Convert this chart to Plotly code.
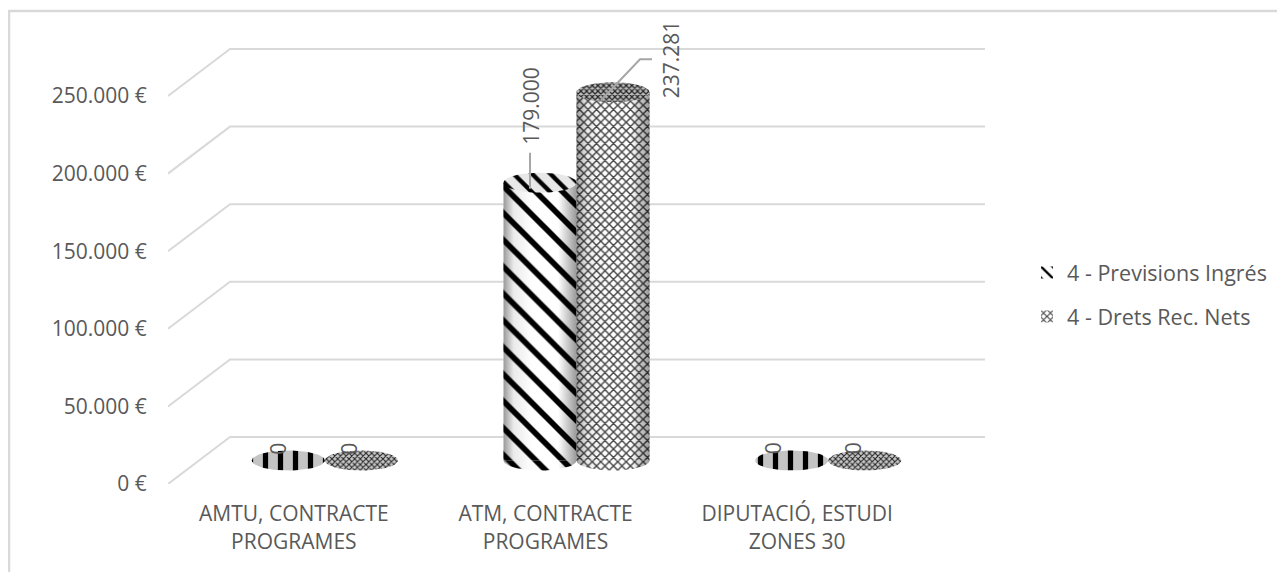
import numpy as np
import plotly.graph_objects as go

categories = ["AMTU, CONTRACTE<br>PROGRAMES", "ATM, CONTRACTE<br>PROGRAMES", "DIPUTACIÓ, ESTUDI<br>ZONES 30"]
previsions = [0, 179000, 0]
drets = [0, 237281, 0]
y_ticks = [0, 50000, 100000, 150000, 200000, 250000]
y_ticklabels = ["0 €", "50.000 €", "100.000 €", "150.000 €", "200.000 €", "250.000 €"]
value_labels_prev = ["0", "179.000", "0"]
value_labels_drets = ["0", "237.281", "0"]

TEXT = "#595959"
GRID = "#d9d9d9"
FONT = "Open Sans"
OFF = 8                                # the page's own body margin
W, H = 1285 - OFF, 572 - OFF
L, R, T, B = 168 - OFF, 985 - OFF, 12 - OFF, 484 - OFF   # plot area in px
CAT_PX = 755 / 3                      # px per category on the front plane
V_PX = 77.6 / 50000                   # px per euro
DX = 62 / CAT_PX                      # depth of the floor, x units
DY = 47 / V_PX                        # depth of the floor, y units
BAR_W = 73 / CAT_PX
RY = 10 / V_PX                        # ellipse half-height
x_range = [-0.5, -0.5 + (R - L) / CAT_PX]
y_range = [0, (B - T) / V_PX]
x_pos = np.arange(len(categories), dtype=float)
x_prev = x_pos + DX / 2 - BAR_W / 2
x_drets = x_pos + DX / 2 + BAR_W / 2
base = DY / 2

fig = go.Figure()

# 3-D style gridlines, under the marks
grid_shapes = []
for v in y_ticks:
    grid_shapes.append(dict(
        type="path", xref="x", yref="y", layer="below", line=dict(color=GRID, width=2),
        path=f"M {x_range[0]},{v} L {x_range[0] + DX},{v + DY} L {x_range[1]},{v + DY}"))

PAT_PREV = dict(shape="\\", bgcolor="white", fgcolor="black", fgopacity=1, size=19, solidity=0.3)
PAT_PREV_TOP = dict(shape="\\", bgcolor="#e8e8e8", fgcolor="black", fgopacity=1, size=13, solidity=0.33)
PAT_DRETS = dict(shape="x", bgcolor="white", fgcolor="#444444", fgopacity=1, size=6, solidity=0.42)
PAT_DRETS_TOP = dict(shape="x", bgcolor="#bbbbbb", fgcolor="#222222", fgopacity=1, size=4, solidity=0.5)
PAT_PREV_FLAT = dict(shape="|", bgcolor="#c4c4c4", fgcolor="black", fgopacity=1, size=15, solidity=0.35)
PAT_DRETS_FLAT = dict(shape="x", bgcolor="#c8c8c8", fgcolor="#222222", fgopacity=1, size=4, solidity=0.45)

fig.add_trace(go.Bar(name="4 - Previsions Ingrés", x=x_prev, y=previsions, base=base, width=BAR_W,
                     legendgroup="a",
                     marker=dict(color="white", line_width=0, pattern=PAT_PREV)))
fig.add_trace(go.Bar(name="4 - Drets Rec. Nets", x=x_drets, y=drets, base=base, width=BAR_W,
                     legendgroup="b",
                     marker=dict(color="white", line_width=0, pattern=PAT_DRETS)))


def ellipse(cx, cy, t0=0.0, t1=2 * np.pi):
    t = np.linspace(t0, t1, 61)
    return cx + BAR_W / 2 * np.cos(t), cy + RY * np.sin(t)


def poly(px, py, pattern):
    fig.add_trace(go.Scatter(x=px, y=py, mode="lines", line=dict(width=0), fill="toself",
                             fillcolor="rgba(255,255,255,1)", fillpattern=pattern,
                             hoverinfo="skip", showlegend=False))


for xs, vals, pat, top, flat in [(x_prev, previsions, PAT_PREV, PAT_PREV_TOP, PAT_PREV_FLAT),
                                 (x_drets, drets, PAT_DRETS, PAT_DRETS_TOP, PAT_DRETS_FLAT)]:
    for cx, v in zip(xs, vals):
        if v == 0:
            poly(*ellipse(cx, base), flat)
            continue
        # lower rim
        poly(*ellipse(cx, base, np.pi, 2 * np.pi), pat)
        # side shading
        sx, sy = ellipse(cx, base, np.pi, 2 * np.pi)
        fig.add_trace(go.Scatter(
            x=np.r_[sx, sx[-1], sx[0]], y=np.r_[sy, base + v, base + v], mode="lines",
            line=dict(width=0), fill="toself",
            fillgradient=dict(type="horizontal",
                              colorscale=[[0, "rgba(0,0,0,0.40)"], [0.14, "rgba(0,0,0,0.08)"],
                                          [0.4, "rgba(0,0,0,0)"], [0.75, "rgba(0,0,0,0)"],
                                          [1, "rgba(0,0,0,0.40)"]]),
            hoverinfo="skip", showlegend=False))
        # top
        poly(*ellipse(cx, base + v), top)


# data labels: rotated text, with leader lines
def label(cx, v, text, px_x, px_y):
    fig.add_annotation(x=cx, y=base + v, text=text, textangle=-90, showarrow=False,
                       xshift=px_x, yshift=px_y, xanchor="center", yanchor="middle",
                       font=dict(family=FONT, size=21, color=TEXT))


def leader(cx, v, pts):
    lx = [cx + p[0] / CAT_PX for p in pts]
    ly = [base + v + p[1] / V_PX for p in pts]
    fig.add_trace(go.Scatter(x=lx, y=ly, mode="lines", line=dict(color="#a6a6a6", width=2),
                             hoverinfo="skip", showlegend=False))


for i in range(3):
    if previsions[i]:
        label(x_prev[i], previsions[i], value_labels_prev[i], -9, 77)
        leader(x_prev[i], previsions[i], [(-10, -6), (-10, 30)])
    else:
        label(x_prev[i], previsions[i], value_labels_prev[i], -11 if i == 0 else -19, 12)
    if drets[i]:
        label(x_drets[i], drets[i], value_labels_drets[i], 58, 33)
        leader(x_drets[i], drets[i], [(-12, -8), (27, 33), (39, 33)])
    else:
        label(x_drets[i], drets[i], value_labels_drets[i], -13 if i == 0 else -12, 12)

fig.update_layout(
    width=W, height=H, autosize=False,
    margin=dict(l=L, r=W - R, t=T, b=H - B, pad=0),
    paper_bgcolor="white", plot_bgcolor="rgba(0,0,0,0)",
    barmode="overlay",
    font=dict(family=FONT, size=21, color=TEXT),
    xaxis=dict(range=x_range, tickmode="array", tickvals=list(x_pos), ticktext=categories,
               showgrid=False, zeroline=False, showline=False, ticks="outside", ticklen=11,
               tickcolor="rgba(0,0,0,0)", tickangle=0, tickfont=dict(family=FONT, size=21, color=TEXT)),
    yaxis=dict(range=y_range, tickmode="array", tickvals=y_ticks, ticktext=y_ticklabels,
               showgrid=False, zeroline=False, showline=False, ticks="outside", ticklen=16,
               tickcolor="rgba(0,0,0,0)", tickfont=dict(family=FONT, size=21, color=TEXT)),
    legend=dict(x=(1027 - 168) / (R - L), y=1 - (252 - 12) / (B - T), xanchor="left", yanchor="top",
                font=dict(family=FONT, size=21.5, color=TEXT), bgcolor="rgba(0,0,0,0)",
                traceorder="grouped", tracegroupgap=13, itemclick=False),
    shapes=grid_shapes + [dict(type="path", xref="paper", yref="paper", layer="below",
                 path="M {a},{b} L {a},{c} L {d},{c}".format(
                     a=(1 - L) / (R - L), b=(B - H - 2) / (B - T), c=1 + (T - 3) / (B - T),
                     d=(W + 2 - L) / (R - L)),
                 line=dict(color=GRID, width=2.5))],
)
fig.write_html("out.html")
